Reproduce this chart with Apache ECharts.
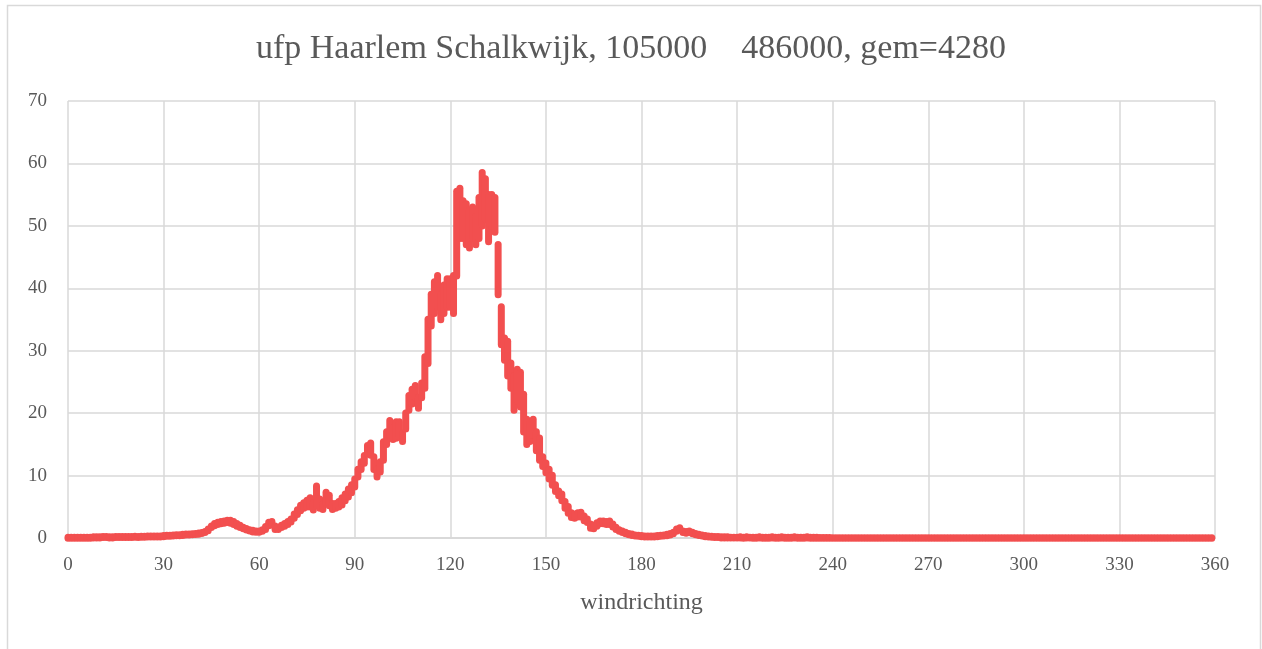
<!DOCTYPE html>
<html>
<head>
<meta charset="utf-8">
<script src="https://cdn.jsdelivr.net/npm/echarts@6/dist/echarts.min.js"></script>
<style>
    html, body {margin: 0; padding: 0; background: #fff;}
    #ufp {width: 1262px; height: 649px;}
</style>
</head>
<body>
<div id="ufp"></div>
<script>
// windrichting in graden, index = richting (0..359)
var xTicks = [0, 30, 60, 90, 120, 150, 180, 210, 240, 270, 300, 330, 360];
var yTicks = [0, 10, 20, 30, 40, 50, 60, 70];

// onderkant en bovenkant van de puntenwolk per graad
var ufpLow = [
    0, 0, 0, 0, 0, 0, 0, 0, 0.05, 0.05,
    0.05, 0.1, 0.1, 0.05, 0.05, 0.1, 0.1, 0.1, 0.1, 0.1,
    0.1, 0.15, 0.1, 0.15, 0.15, 0.2, 0.2, 0.2, 0.2, 0.2,
    0.25, 0.3, 0.3, 0.35, 0.4, 0.4, 0.45, 0.5, 0.5, 0.55,
    0.6, 0.65, 0.75, 0.9, 1.2, 1.7, 2.0, 2.2, 2.3, 2.4,
    2.5, 2.4, 2.2, 1.9, 1.7, 1.5, 1.3, 1.15, 1.0, 0.95,
    0.95, 1.1, 1.4, 2.0, 2.1, 1.4, 1.4, 1.7, 1.9, 2.2,
    2.6, 3.2, 3.8, 4.4, 4.8, 5.0, 5.0, 4.5, 5.2, 4.8,
    4.6, 5.5, 5.2, 4.6, 4.8, 5.0, 5.3, 6.0, 6.6, 7.3,
    8.2, 9.8, 11.0, 12.0, 13.5, 13.3, 11.0, 9.8, 10.6, 12.5,
    15.0, 16.5, 15.8, 16.0, 16.3, 15.5, 17.5, 20.5, 21.5, 22.5,
    20.8, 22.5, 24.0, 28.0, 34.0, 36.0, 37.0, 35.0, 36.0, 37.0,
    37.0, 36.0, 42.0, 48.0, 48.0, 47.0, 46.5, 48.0, 47.0, 48.0,
    50.0, 51.0, 47.5, 50.0, 49.0, 39.0, 31.0, 28.5, 26.0, 24.0,
    20.5, 22.0, 21.0, 17.0, 15.0, 15.5, 16.5, 14.0, 12.5, 11.5,
    10.5, 9.5, 8.5, 7.5, 6.8, 6.0, 4.8, 4.0, 3.3, 3.2,
    3.4, 3.4, 2.8, 2.5, 1.6, 1.5, 1.9, 2.3, 2.3, 2.2,
    2.2, 1.8, 1.4, 1.1, 0.9, 0.7, 0.55, 0.45, 0.35, 0.3,
    0.25, 0.2, 0.2, 0.2, 0.2, 0.25, 0.3, 0.35, 0.4, 0.5,
    0.7, 1.1, 1.3, 0.9, 0.8, 0.9, 0.7, 0.55, 0.45, 0.35,
    0.25, 0.2, 0.15, 0.1, 0.1, 0.05, 0.05, 0.05, 0.05, 0.05,
    0.05, 0.05, 0, 0.05, 0.05, 0, 0, 0.05, 0, 0,
    0, 0.05, 0, 0, 0.05, 0, 0, 0, 0.05, 0,
    0, 0, 0.05, 0, 0, 0, 0, 0, 0, 0,
    0, 0, 0, 0, 0, 0, 0, 0, 0, 0,
    0, 0, 0, 0, 0, 0, 0, 0, 0, 0,
    0, 0, 0, 0, 0, 0, 0, 0, 0, 0,
    0, 0, 0, 0, 0, 0, 0, 0, 0, 0,
    0, 0, 0, 0, 0, 0, 0, 0, 0, 0,
    0, 0, 0, 0, 0, 0, 0, 0, 0, 0,
    0, 0, 0, 0, 0, 0, 0, 0, 0, 0,
    0, 0, 0, 0, 0, 0, 0, 0, 0, 0,
    0, 0, 0, 0, 0, 0, 0, 0, 0, 0,
    0, 0, 0, 0, 0, 0, 0, 0, 0, 0,
    0, 0, 0, 0, 0, 0, 0, 0, 0, 0,
    0, 0, 0, 0, 0, 0, 0, 0, 0, 0
];
var ufpHigh = [
    0.1, 0.1, 0.1, 0.1, 0.1, 0.1, 0.1, 0.1, 0.15, 0.15,
    0.15, 0.2, 0.2, 0.15, 0.15, 0.2, 0.2, 0.2, 0.2, 0.2,
    0.2, 0.25, 0.2, 0.25, 0.25, 0.3, 0.3, 0.3, 0.3, 0.3,
    0.35, 0.4, 0.4, 0.45, 0.5, 0.5, 0.55, 0.6, 0.6, 0.65,
    0.7, 0.75, 0.85, 1.0, 1.4, 1.9, 2.3, 2.5, 2.6, 2.7,
    2.8, 2.8, 2.6, 2.3, 2.0, 1.7, 1.5, 1.3, 1.2, 1.1,
    1.1, 1.3, 1.8, 2.5, 2.6, 1.9, 1.7, 2.0, 2.3, 2.6,
    3.0, 3.8, 4.5, 5.2, 5.6, 6.0, 6.4, 5.6, 8.3, 6.2,
    5.4, 7.3, 6.8, 5.5, 5.5, 5.8, 6.4, 7.0, 7.8, 8.5,
    9.4, 11.0, 12.2, 13.2, 14.8, 15.2, 13.0, 11.0, 12.2, 15.4,
    17.0, 18.8, 17.6, 18.6, 18.6, 16.8, 20.0, 22.8, 23.8, 24.4,
    22.5, 24.8, 29.0, 35.0, 39.0, 41.0, 42.0, 39.0, 40.5, 41.5,
    41.5, 42.0, 55.5, 56.0, 54.0, 53.5, 52.5, 53.0, 51.5, 54.5,
    58.5, 57.5, 55.0, 55.0, 54.5, 47.0, 37.0, 32.0, 31.5, 28.0,
    26.0, 27.0, 26.5, 23.0, 19.0, 18.5, 19.0, 17.0, 16.0, 13.0,
    12.0, 11.0, 10.0, 8.5, 7.5, 7.0, 5.8, 5.0, 4.0, 3.8,
    4.0, 4.1, 3.5, 3.0, 2.2, 2.0, 2.4, 2.7, 2.7, 2.6,
    2.7, 2.2, 1.7, 1.3, 1.1, 0.9, 0.7, 0.6, 0.45, 0.4,
    0.35, 0.3, 0.3, 0.3, 0.3, 0.35, 0.4, 0.45, 0.55, 0.7,
    0.9, 1.4, 1.6, 1.1, 1.0, 1.1, 0.9, 0.7, 0.55, 0.45,
    0.35, 0.3, 0.25, 0.2, 0.2, 0.15, 0.15, 0.15, 0.1, 0.1,
    0.1, 0.15, 0.1, 0.15, 0.1, 0.1, 0.1, 0.15, 0.1, 0.1,
    0.1, 0.15, 0.1, 0.1, 0.15, 0.1, 0.1, 0.1, 0.15, 0.1,
    0.1, 0.1, 0.15, 0.1, 0.1, 0.1, 0.05, 0.05, 0.05, 0.05,
    0, 0, 0, 0, 0, 0, 0, 0, 0, 0,
    0, 0, 0, 0, 0, 0, 0, 0, 0, 0,
    0, 0, 0, 0, 0, 0, 0, 0, 0, 0,
    0, 0, 0, 0, 0, 0, 0, 0, 0, 0,
    0, 0, 0, 0, 0, 0, 0, 0, 0, 0,
    0, 0, 0, 0, 0, 0, 0, 0, 0, 0,
    0, 0, 0, 0, 0, 0, 0, 0, 0, 0,
    0, 0, 0, 0, 0, 0, 0, 0, 0, 0,
    0, 0, 0, 0, 0, 0, 0, 0, 0, 0,
    0, 0, 0, 0, 0, 0, 0, 0, 0, 0,
    0, 0, 0, 0, 0, 0, 0, 0, 0, 0,
    0, 0, 0, 0, 0, 0, 0, 0, 0, 0
];

var rood = '#f24f4f';
var tekst = '#595959';
var lijn = '#d9d9d9';
var font = '"Liberation Serif", "DejaVu Serif", serif';

var punten = [];
for (var i = 0; i < ufpLow.length; i++) {
    punten.push([i, ufpLow[i], ufpHigh[i]]);
}

var myChart = echarts.init(document.getElementById('ufp'));
myChart.setOption({
    animation: false,
    backgroundColor: '#fff',
    title: {
        text: 'ufp Haarlem Schalkwijk, 105000    486000, gem=4280',
        left: 'center',
        top: 27,
        textStyle: {
            color: tekst,
            fontFamily: font,
            fontWeight: 'normal',
            fontSize: 34
        }
    },
    graphic: [{
        type: 'rect',
        shape: {x: 7.5, y: 5.5, width: 1253, height: 660},
        style: {fill: 'none', stroke: lijn, lineWidth: 1.5},
        silent: true
    }],
    grid: {
        left: 68,
        right: 47,
        top: 101,
        bottom: 111
    },
    xAxis: {
        type: 'value',
        min: xTicks[0],
        max: xTicks[xTicks.length - 1],
        interval: 30,
        name: 'windrichting',
        nameLocation: 'middle',
        nameGap: 53,
        nameTextStyle: {color: tekst, fontFamily: font, fontSize: 24},
        axisLine: {show: true, lineStyle: {color: lijn, width: 2}},
        axisTick: {show: false},
        axisLabel: {color: tekst, fontFamily: font, fontSize: 19, margin: 18},
        splitLine: {show: true, lineStyle: {color: lijn, width: 1.5}}
    },
    yAxis: {
        type: 'value',
        min: yTicks[0],
        max: yTicks[yTicks.length - 1],
        interval: 10,
        axisLine: {show: false},
        axisTick: {show: false},
        axisLabel: {color: tekst, fontFamily: font, fontSize: 19, margin: 21},
        splitLine: {show: true, lineStyle: {color: lijn, width: 1.5}}
    },
    series: [{
        name: 'ufp',
        type: 'custom',
        data: punten,
        encode: {x: 0, y: [1, 2]},
        renderItem: function (params, api) {
            var p1 = api.coord([api.value(0), api.value(1)]);
            var p2 = api.coord([api.value(0), api.value(2)]);
            return {
                type: 'line',
                shape: {x1: p1[0], y1: p1[1] + 0.2, x2: p2[0], y2: p2[1] - 0.2},
                style: {stroke: rood, lineWidth: 7, lineCap: 'round'}
            };
        }
    }]
});
</script>
</body>
</html>
